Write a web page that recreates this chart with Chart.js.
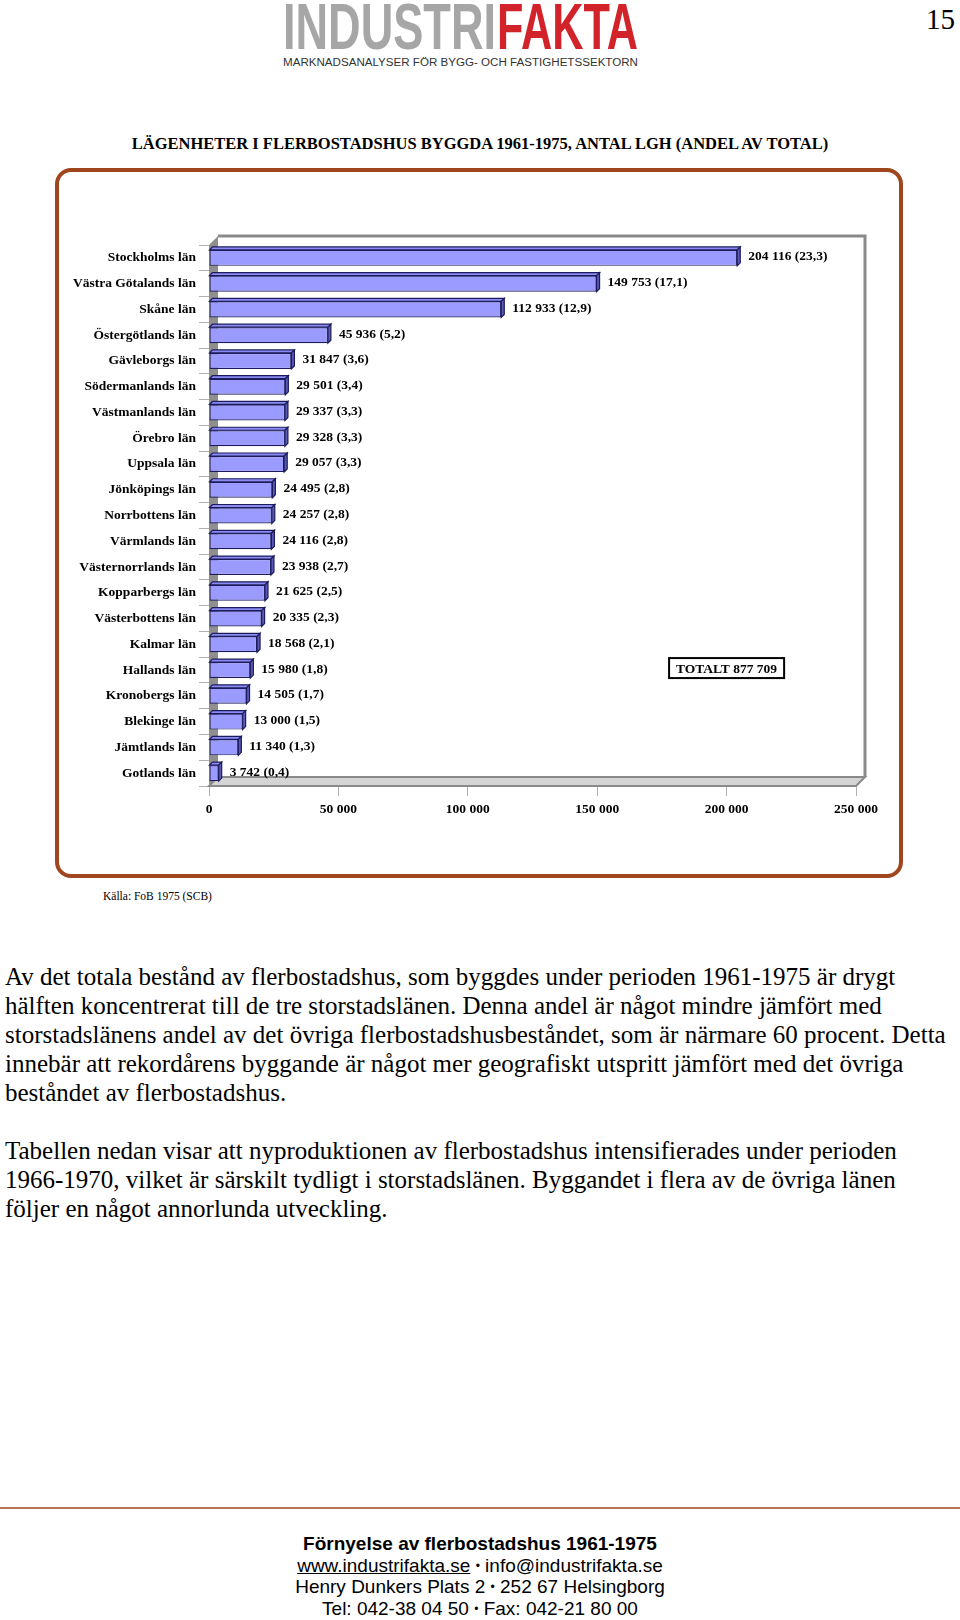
<!DOCTYPE html>
<html lang="sv">
<head>
<meta charset="utf-8">
<script src="https://cdn.jsdelivr.net/npm/chart.js@4.4.1/dist/chart.umd.min.js"></script>
<style>
  html, body { margin: 0; padding: 0; background: #fff; }
  body { width: 960px; height: 1620px; position: relative; overflow: hidden; font-family: 'Liberation Serif', 'Times New Roman', serif; color: #000; }
  .abs { position: absolute; white-space: nowrap; }
  #logo { position: absolute; left: 0; top: 0; }
  #pageno { right: 5px; top: 4px; font-size: 29px; line-height: 30px; }
  #title { left: 0; width: 960px; text-align: center; top: 134px; font-size: 16.5px; line-height: 20px; font-weight: bold; }
  #box { position: absolute; left: 55px; top: 168px; width: 840px; height: 702px; border: 4px solid #a0461e; border-radius: 16px; }
  #wrap { position: absolute; left: 57px; top: 170px; width: 845px; height: 707px; }
  #kalla { left: 103px; top: 888px; font-size: 11.5px; line-height: 16px; }
  #text { left: 5px; top: 962px; font-size: 25px; line-height: 29px; }
  #rule { position: absolute; left: 0; top: 1507px; width: 960px; height: 0; border-top: 2px solid #b5744f; }
  #footer { left: 0; width: 960px; top: 1533px; text-align: center; font-family: 'Liberation Sans', Arial, sans-serif; font-size: 19px; line-height: 21.5px; }
  #footer b { font-weight: bold; }
  #footer .dot { font-size: 12px; line-height: 0; vertical-align: 2px; }
  #footer u { text-decoration: underline; }
</style>
</head>
<body>

<svg id="logo" width="960" height="80">
  <text x="283" y="49" textLength="213" lengthAdjust="spacingAndGlyphs"
        font-family="Liberation Sans Narrow, Liberation Sans, Arial" font-weight="bold" font-size="64" fill="#a6a6a6">INDUSTRI</text>
  <text x="497" y="49" textLength="141" lengthAdjust="spacingAndGlyphs"
        font-family="Liberation Sans Narrow, Liberation Sans, Arial" font-weight="bold" font-size="64" fill="#d2232a">FAKTA</text>
  <text x="283" y="66" textLength="355" lengthAdjust="spacingAndGlyphs"
        font-family="Liberation Sans, Arial" font-size="10" fill="#333">MARKNADSANALYSER FÖR BYGG- OCH FASTIGHETSSEKTORN</text>
</svg>

<div id="pageno" class="abs">15</div>
<div id="title" class="abs">LÄGENHETER I FLERBOSTADSHUS BYGGDA 1961-1975, ANTAL LGH (ANDEL AV TOTAL)</div>

<div id="box"></div>
<div id="wrap"><canvas id="chart" width="845" height="707"></canvas></div>

<div id="kalla" class="abs">Källa: FoB 1975 (SCB)</div>

<div id="text" class="abs">Av det totala bestånd av flerbostadshus, som byggdes under perioden 1961-1975 är drygt<br>
hälften koncentrerat till de tre storstadslänen. Denna andel är något mindre jämfört med<br>
storstadslänens andel av det övriga flerbostadshusbeståndet, som är närmare 60 procent. Detta<br>
innebär att rekordårens byggande är något mer geografiskt utspritt jämfört med det övriga<br>
beståndet av flerbostadshus.<br>
<br>
Tabellen nedan visar att nyproduktionen av flerbostadshus intensifierades under perioden<br>
1966-1970, vilket är särskilt tydligt i storstadslänen. Byggandet i flera av de övriga länen<br>
följer en något annorlunda utveckling.</div>

<div id="rule"></div>
<div id="footer" class="abs"><b>Förnyelse av flerbostadshus 1961-1975</b><br>
<u>www.industrifakta.se</u> <span class="dot">•</span> info@industrifakta.se<br>
Henry Dunkers Plats 2 <span class="dot">•</span> 252 67 Helsingborg<br>
Tel: 042-38 04 50 <span class="dot">•</span> Fax: 042-21 80 00</div>

<script>
// ── Data ──────────────────────────────────────────
const lan = [
  'Stockholms län', 'Västra Götalands län', 'Skåne län', 'Östergötlands län',
  'Gävleborgs län', 'Södermanlands län', 'Västmanlands län', 'Örebro län',
  'Uppsala län', 'Jönköpings län', 'Norrbottens län', 'Värmlands län',
  'Västernorrlands län', 'Kopparbergs län', 'Västerbottens län', 'Kalmar län',
  'Hallands län', 'Kronobergs län', 'Blekinge län', 'Jämtlands län', 'Gotlands län',
];
const antal = [
  204116, 149753, 112933, 45936, 31847, 29501, 29337, 29328, 29057, 24495,
  24257, 24116, 23938, 21625, 20335, 18568, 15980, 14505, 13000, 11340, 3742,
];
const andel = [
  '23,3', '17,1', '12,9', '5,2', '3,6', '3,4', '3,3', '3,3', '3,3', '2,8',
  '2,8', '2,8', '2,7', '2,5', '2,3', '2,1', '1,8', '1,7', '1,5', '1,3', '0,4',
];
const xMax  = 250000;
const xStep = 50000;
const totalText = 'TOTALT 877 709';
const totalAt   = { x: 200000, lan: 'Hallands län' };

const FONT = "'Liberation Serif', 'Times New Roman', serif";
const fmt = v => String(v).replace(/\B(?=(\d{3})+(?!\d))/g, ' ');

// ── 3D väggar och golv ────────────────────────────
const DEPTH = 9;
const wallsPlugin = {
  id: 'walls',
  beforeDatasetsDraw(chart) {
    const { ctx, chartArea: a } = chart;
    const d = DEPTH;
    ctx.save();
    // bakre vägg
    ctx.fillStyle = '#ffffff';
    ctx.fillRect(a.left + d, a.top - d, a.right - a.left, a.bottom - a.top);
    ctx.strokeStyle = '#8a8a8a';
    ctx.lineWidth = 3;
    ctx.beginPath();
    ctx.moveTo(a.left + d, a.top - d);
    ctx.lineTo(a.right + d, a.top - d);
    ctx.lineTo(a.right + d, a.bottom - d);
    ctx.stroke();
    // vänster vägg
    ctx.fillStyle = '#8f8f8f';
    ctx.beginPath();
    ctx.moveTo(a.left, a.top);
    ctx.lineTo(a.left + d, a.top - d);
    ctx.lineTo(a.left + d, a.bottom - d);
    ctx.lineTo(a.left, a.bottom);
    ctx.closePath();
    ctx.fill();
    // golv
    ctx.fillStyle = '#d4d4d4';
    ctx.strokeStyle = '#8a8a8a';
    ctx.lineWidth = 2;
    ctx.beginPath();
    ctx.moveTo(a.left, a.bottom);
    ctx.lineTo(a.right, a.bottom);
    ctx.lineTo(a.right + d, a.bottom - d);
    ctx.lineTo(a.left + d, a.bottom - d);
    ctx.closePath();
    ctx.fill();
    ctx.stroke();
    ctx.restore();
  },
};

// ── 3D staplar + etiketter ────────────────────────
const BD = 3;
const barsPlugin = {
  id: 'bars3d',
  afterDatasetsDraw(chart) {
    const { ctx } = chart;
    const meta = chart.getDatasetMeta(0);
    ctx.save();
    ctx.lineWidth = 1.2;
    ctx.strokeStyle = '#1c1c5c';
    meta.data.forEach((bar, i) => {
      const { x, y, base, height } = bar.getProps(['x', 'y', 'base', 'height'], true);
      const top = y - height / 2, bot = y + height / 2;
      // ovansida
      ctx.fillStyle = '#8a8af2';
      ctx.beginPath();
      ctx.moveTo(base, top);
      ctx.lineTo(x, top);
      ctx.lineTo(x + BD, top - BD);
      ctx.lineTo(base + BD, top - BD);
      ctx.closePath();
      ctx.fill(); ctx.stroke();
      // sida
      ctx.fillStyle = '#5a5ab4';
      ctx.beginPath();
      ctx.moveTo(x, top);
      ctx.lineTo(x + BD, top - BD);
      ctx.lineTo(x + BD, bot - BD);
      ctx.lineTo(x, bot);
      ctx.closePath();
      ctx.fill(); ctx.stroke();
      // etikett
      ctx.fillStyle = '#000';
      ctx.font = `bold 13.5px ${FONT}`;
      ctx.textAlign = 'left';
      ctx.textBaseline = 'middle';
      ctx.fillText(`${fmt(antal[i])} (${andel[i]})`, x + BD + 8, y - 1);
    });

    // totalruta
    const tx = chart.scales.x.getPixelForValue(totalAt.x);
    const ty = chart.scales.y.getPixelForValue(lan.indexOf(totalAt.lan));
    ctx.font = `bold 13.5px ${FONT}`;
    const w = ctx.measureText(totalText).width + 14;
    const h = 20;
    ctx.fillStyle = '#fff';
    ctx.fillRect(tx - w / 2, ty - h / 2 - 2, w, h);
    ctx.lineWidth = 2;
    ctx.strokeStyle = '#000';
    ctx.strokeRect(tx - w / 2, ty - h / 2 - 2, w, h);
    ctx.fillStyle = '#000';
    ctx.textAlign = 'center';
    ctx.fillText(totalText, tx, ty - 1);
    ctx.restore();
  },
};

new Chart(document.getElementById('chart').getContext('2d'), {
  type: 'bar',
  data: {
    labels: lan,
    datasets: [{
      data: antal,
      backgroundColor: '#9b9bff',
      borderColor: '#1c1c5c',
      borderWidth: 1.2,
      borderSkipped: false,
      categoryPercentage: 1,
      barPercentage: 0.62,
    }],
  },
  options: {
    indexAxis: 'y',
    responsive: false,
    animation: false,
    devicePixelRatio: 1,
    layout: { padding: { top: 75, right: 46, left: 0, bottom: 0 } },
    plugins: { legend: { display: false }, tooltip: { enabled: false } },
    scales: {
      x: {
        min: 0, max: xMax,
        border: { display: false },
        grid: { drawOnChartArea: false, drawTicks: true, tickLength: 10, color: '#b0b0b0', lineWidth: 1 },
        ticks: {
          stepSize: xStep, padding: 5, color: '#000',
          font: { family: FONT, size: 13.5, weight: 'bold' },
          callback: v => fmt(v),
        },
        afterFit: s => { s.height = 91; },
      },
      y: {
        border: { display: false },
        grid: { drawOnChartArea: false, drawTicks: true, tickLength: 10, color: '#b0b0b0', lineWidth: 1 },
        ticks: {
          autoSkip: false, padding: 3, color: '#000',
          font: { family: FONT, size: 13.5, weight: 'bold' },
        },
        afterFit: s => { s.width = 152; },
      },
    },
  },
  plugins: [wallsPlugin, barsPlugin],
});
</script>
</body>
</html>
